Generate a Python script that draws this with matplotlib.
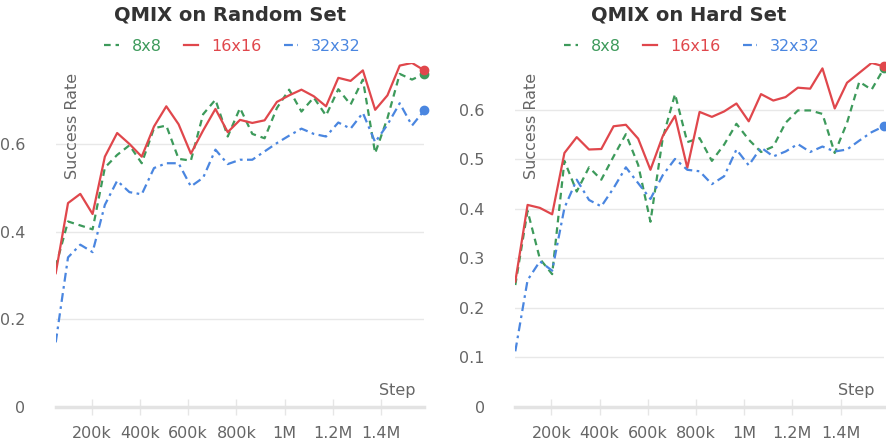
import matplotlib

matplotlib.use("Agg")
import matplotlib.pyplot as plt
from matplotlib.ticker import FuncFormatter

# training steps (31 evaluation points)
steps = [50000 + 51000 * i for i in range(31)]

random_8x8 = [0.320, 0.423, 0.414, 0.405, 0.546, 0.575, 0.597, 0.556, 0.636, 0.642,
              0.566, 0.562, 0.668, 0.701, 0.617, 0.682, 0.623, 0.613, 0.682, 0.724,
              0.674, 0.706, 0.665, 0.725, 0.690, 0.747, 0.579, 0.659, 0.760, 0.747, 0.760]
random_16x16 = [0.305, 0.465, 0.486, 0.440, 0.571, 0.625, 0.600, 0.571, 0.640, 0.686,
                0.645, 0.578, 0.631, 0.680, 0.627, 0.655, 0.648, 0.654, 0.696, 0.711,
                0.724, 0.709, 0.686, 0.751, 0.744, 0.768, 0.678, 0.711, 0.779, 0.785, 0.768]
random_32x32 = [0.147, 0.341, 0.370, 0.353, 0.461, 0.516, 0.490, 0.485, 0.545, 0.556,
                0.556, 0.503, 0.523, 0.587, 0.554, 0.564, 0.564, 0.583, 0.602, 0.619,
                0.635, 0.623, 0.617, 0.649, 0.635, 0.671, 0.604, 0.644, 0.693, 0.642, 0.677]

hard_8x8 = [0.246, 0.396, 0.299, 0.268, 0.497, 0.435, 0.484, 0.459, 0.506, 0.551,
            0.489, 0.374, 0.543, 0.632, 0.535, 0.543, 0.497, 0.530, 0.572, 0.540,
            0.515, 0.526, 0.574, 0.599, 0.599, 0.592, 0.513, 0.574, 0.657, 0.641, 0.684]
hard_16x16 = [0.253, 0.408, 0.402, 0.389, 0.513, 0.545, 0.520, 0.521, 0.567, 0.570,
              0.542, 0.479, 0.547, 0.588, 0.483, 0.596, 0.586, 0.597, 0.613, 0.577,
              0.632, 0.619, 0.626, 0.645, 0.643, 0.684, 0.603, 0.655, 0.675, 0.695, 0.688]
hard_32x32 = [0.112, 0.256, 0.294, 0.275, 0.402, 0.459, 0.418, 0.405, 0.442, 0.484,
              0.452, 0.420, 0.468, 0.501, 0.479, 0.476, 0.450, 0.466, 0.520, 0.488,
              0.524, 0.506, 0.516, 0.531, 0.515, 0.526, 0.516, 0.520, 0.538, 0.555, 0.567]

labels = ["8x8", "16x16", "32x32"]
colors = ["#3d9a5b", "#e0474c", "#4a86e0"]
dashes = [(3.0, 2.2), (), (4.0, 2.0, 1.2, 2.0)]

GRAY = "#666666"
GRID = "#e8e8e8"


def step_fmt(v, _):
    if v >= 1e6:
        return f"{v / 1e6:g}M"
    return f"{v / 1e3:g}k"


def draw(ax, series, yticks, title, tcx):
    for vals, lab, col, ds in zip(series, labels, colors, dashes):
        line, = ax.plot(steps, vals, color=col, lw=1.6, label=lab)
        if ds:
            line.set_dashes(ds)
        ax.plot(steps[-1], vals[-1], "o", color=col, ms=6, clip_on=False, zorder=5)

    top = max(max(v) for v in series)
    ax.set_ylim(0, top)
    ax.set_xlim(steps[0], steps[-1])
    ax.set_yticks(yticks)
    ax.yaxis.set_major_formatter(FuncFormatter(lambda v, _: f"{v:g}"))
    ax.set_xticks([200000, 400000, 600000, 800000, 1000000, 1200000, 1400000])
    ax.xaxis.set_major_formatter(FuncFormatter(step_fmt))

    for s in ["top", "right", "left"]:
        ax.spines[s].set_visible(False)
    ax.spines["bottom"].set_color("#e3e3e3")
    ax.spines["bottom"].set_linewidth(2.5)
    ax.grid(axis="y", color=GRID, lw=1)
    ax.set_axisbelow(True)
    ax.tick_params(axis="y", length=0, pad=22, labelsize=11.5, labelcolor=GRAY)
    ax.tick_params(axis="x", direction="inout", length=12, width=1, color="#e6e6e6",
                   pad=8, labelsize=11.5, labelcolor=GRAY)

    ax.text(0.045, 0.97, "Success Rate", transform=ax.transAxes, rotation=90,
            ha="center", va="top", fontsize=11.5, color=GRAY)
    ax.text(0.975, 0.025, "Step", transform=ax.transAxes, ha="right", va="bottom",
            fontsize=11.5, color=GRAY)

    fig = ax.figure
    fig.text(tcx, 0.966, title, ha="center", va="center", fontsize=14,
             fontweight="bold", color="#333333")
    fig.legend(*ax.get_legend_handles_labels(), loc="center",
               bbox_to_anchor=(tcx + 0.003, 0.896), ncol=3, frameon=False,
               fontsize=11.5, labelcolor="linecolor", handlelength=0.9,
               handletextpad=0.8, columnspacing=1.4)


fig = plt.figure(figsize=(8.86, 4.43), dpi=100)
ax1 = fig.add_axes([0.0629, 0.0819, 0.416, 0.776])
ax2 = fig.add_axes([0.5816, 0.0819, 0.416, 0.776])

draw(ax1, [random_8x8, random_16x16, random_32x32], [0, 0.2, 0.4, 0.6],
     "QMIX on Random Set", 229.7 / 886)
draw(ax2, [hard_8x8, hard_16x16, hard_32x32], [0, 0.1, 0.2, 0.3, 0.4, 0.5, 0.6],
     "QMIX on Hard Set", 689 / 886)

fig.savefig("out.png", dpi=100)
